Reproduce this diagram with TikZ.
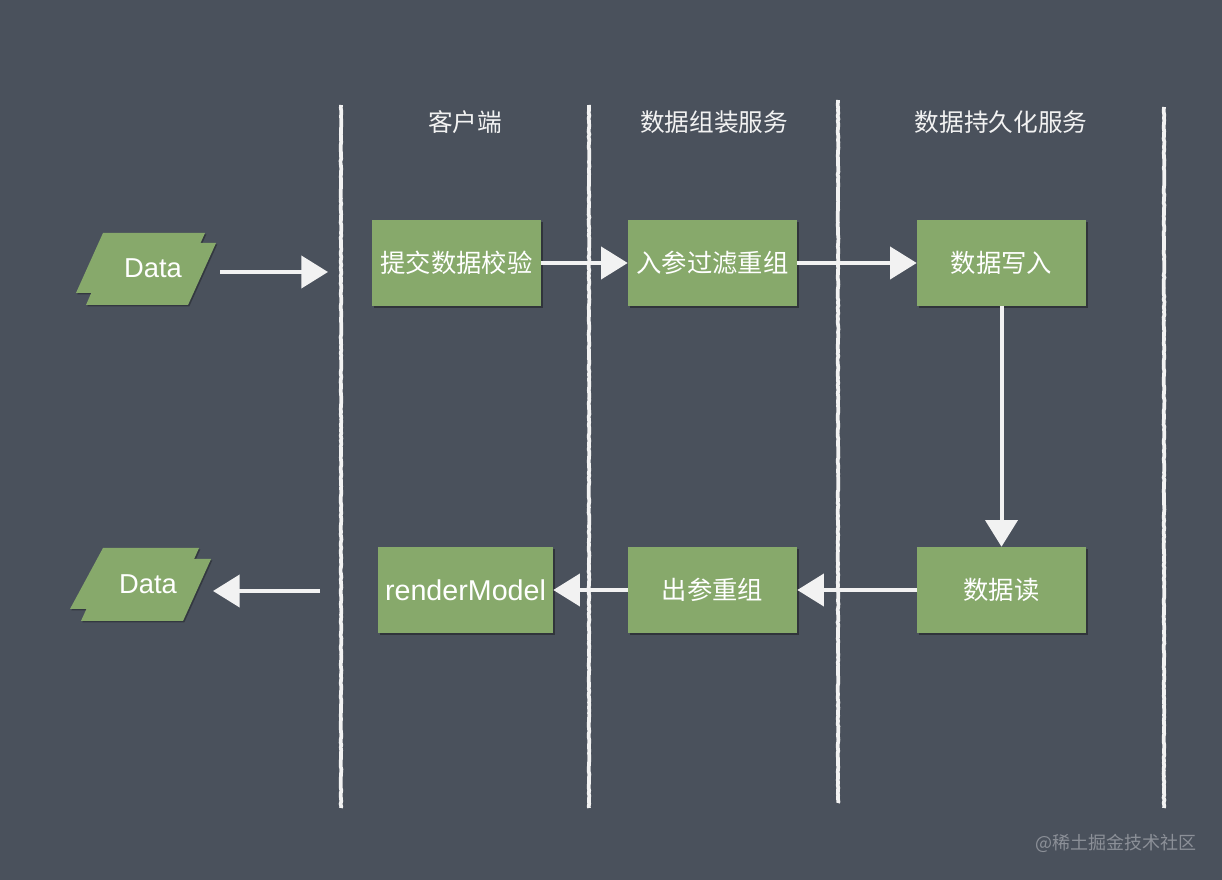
\documentclass[tikz,border=0pt]{standalone}
\usepackage{fontspec}
\setmainfont{Noto Sans CJK SC}
\newfontfamily\latinfont{Liberation Sans}
\usetikzlibrary{arrows.meta,shadows,decorations.pathmorphing}
\definecolor{board}{HTML}{4A515C}
\definecolor{boxgreen}{HTML}{87A96B}
\definecolor{chalk}{HTML}{F2F2F2}
\definecolor{mark}{HTML}{8C9098}
\tikzset{
  procbox/.style={fill=boxgreen, text=white, minimum width=126.75pt, minimum height=64.5pt,
    inner sep=0pt, font=\fontsize{19}{22}\selectfont,
    drop shadow={shadow xshift=1.5pt, shadow yshift=-1.5pt, opacity=0.35, fill=black}},
  header/.style={text=chalk, font=\fontsize{18.5}{22}\selectfont},
  lane/.style={draw=chalk, line width=2.8pt, decorate, decoration={random steps, segment length=2pt, amplitude=0.3pt}},
  flow/.style={draw=chalk, line width=3pt, -{Triangle[length=20pt,width=24pt]}},
  datashape/.style={fill=boxgreen, drop shadow={shadow xshift=1pt, shadow yshift=-1pt, opacity=0.3, fill=black}},
  datatext/.style={text=white, font=\latinfont\fontsize{20.5}{24}\selectfont},
}
\begin{document}
\begin{tikzpicture}[x=0.75pt,y=-0.75pt]
\fill[board] (0,0) rectangle (1222,880);
\useasboundingbox (0,0) rectangle (1222,880);

% swimlane lines
\draw[lane] (341,105) -- (341,808);
\draw[lane] (589,105) -- (589,808);
\draw[lane] (838,100) -- (838,803);
\draw[lane] (1164,107) -- (1164,808);

% headers
\node[header] (h1) at (465,122) {客户端};
\node[header] (h2) at (714,122) {数据组装服务};
\node[header] (h3) at (1001,122) {数据持久化服务};

% process boxes
\node[procbox] (check) at (456.5,263) {提交数据校验};
\node[procbox] (filter) at (712.5,263) {入参过滤重组};
\node[procbox] (write) at (1001.5,263) {数据写入};
\node[procbox, minimum width=131.25pt, font=\latinfont\fontsize{21.5}{24}\selectfont] (render) at (465.5,590) {renderModel};
\node[procbox] (outre) at (712.5,590) {出参重组};
\node[procbox] (read) at (1001.5,590) {数据读};

% Data input (top)
\fill[datashape] (103,233) -- (205,233) -- (178,293) -- (76,293) -- cycle;
\fill[datashape] (113,243) -- (216,243) -- (188,305) -- (86,305) -- cycle;
\node[datatext] (din) at (153,268) {Data};

% Data output (bottom)
\fill[datashape] (103,548) -- (199,548) -- (172,609) -- (70,609) -- cycle;
\fill[datashape] (109,559) -- (211,559) -- (183,621) -- (81,621) -- cycle;
\node[datatext] (dout) at (148,584) {Data};

% free connector ends
\coordinate (inStart) at (220,272);
\coordinate (inEnd) at (328,272);
\coordinate (outStart) at (320,591);
\coordinate (outEnd) at (213,591);

% connectors
\draw[flow] (inStart) -- (inEnd);
\draw[flow] (check.east) -- (filter.west);
\draw[flow] (filter.east) -- (write.west);
\draw[flow] (write.south) -- (read.north);
\draw[flow] (read.west) -- (outre.east);
\draw[flow] (outre.west) -- (render.east);
\draw[flow] (outStart) -- (outEnd);

% watermark
\node[text=mark, font=\fontsize{13.5}{16}\selectfont] (wm) at (1116,843) {@稀土掘金技术社区};
\end{tikzpicture}
\end{document}
